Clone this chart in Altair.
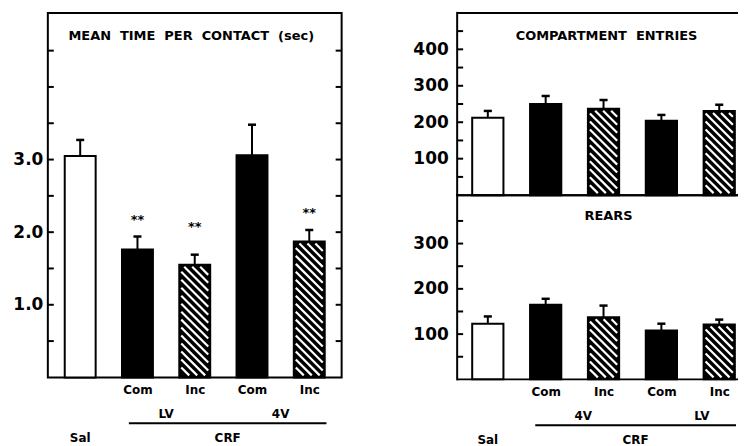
import altair as alt
import pandas as pd

# ---------------- data ----------------
POSITIONS = [0, 1, 2, 3, 4]
KINDS = ["open", "solid", "hatch", "solid", "hatch"]

# left panel: mean time per contact (sec)
LEFT_XLABELS = ["", "Com", "Inc", "Com", "Inc"]
CONTACT_MEAN = [3.05, 1.76, 1.55, 3.06, 1.87]
CONTACT_ERR = [3.27, 1.94, 1.69, 3.48, 2.03]
CONTACT_STARS = [None, 2.17, 2.07, None, 2.27]
LEFT_GROUPS = ["LV", "4V"]
LEFT_GROUP_POS = [1.5, 3.5]
LEFT_YTICKS = [0.5, 1.0, 1.5, 2.0, 2.5, 3.0, 3.5, 4.0, 4.5]
LEFT_YLABELS = [1.0, 2.0, 3.0]

# right panels
RIGHT_XLABELS = ["", "Com", "Inc", "Com", "Inc"]
ENTRIES_MEAN = [212, 250, 237, 204, 231]
ENTRIES_ERR = [231, 272, 261, 220, 248]
REARS_MEAN = [123, 165, 137, 108, 121]
REARS_ERR = [139, 178, 163, 123, 132]
RIGHT_GROUPS = ["4V", "LV"]
RIGHT_GROUP_POS = [1.65, 3.7]
ENTRIES_YTICKS = [50, 100, 150, 200, 250, 300, 350, 400, 450]
ENTRIES_YLABELS = [100, 200, 300, 400]
REARS_YTICKS = [50, 100, 150, 200, 250, 300, 350]
REARS_YLABELS = [100, 200, 300]

CRF_SPAN_LEFT = [0.85, 4.3]
CRF_SPAN_RIGHT = [0.82, 4.29]

FONT = "DejaVu Sans"
HALF = 0.27
CAP = 0.07


def hatch_df(values, kinds, xdom, W, H, ymax, period=8.0, inset=2.0):
    sx = W / (xdom[1] - xdom[0])
    sy = H / ymax
    rows = []
    for p, v, k in zip(POSITIONS, values, kinds):
        if k != "hatch":
            continue
        x0 = (p - HALF - xdom[0]) * sx + inset
        x1 = (p + HALF - xdom[0]) * sx - inset
        yt = (ymax - v) * sy + inset
        yb = H - inset
        c = yb - x0
        cmin = yt - x1
        while c > cmin:
            xa = max(x0, yt - c)
            xb = min(x1, yb - c)
            if xb - xa > 0.5:
                rows.append({
                    "hx": xa / sx + xdom[0],
                    "hx2": xb / sx + xdom[0],
                    "hy": ymax - (xa + c) / sy,
                    "hy2": ymax - (xb + c) / sy,
                })
            c -= period
    return pd.DataFrame(rows)


def panel(values, errs, xdom, W, H, ymax, yticks, ylabels, yfmt, title, title_x,
          title_y, label_pad, xlabels=None, stars=None, right_ticks=False,
          groups=None, group_pos=None, crf_span=None, open_right=False):
    df = pd.DataFrame({
        "pos": POSITIONS, "kind": KINDS, "value": values, "err": errs,
    })
    df["x0"] = df["pos"] - HALF
    df["x1"] = df["pos"] + HALF
    df["cl"] = df["pos"] - CAP
    df["cr"] = df["pos"] + CAP

    xscale = alt.Scale(domain=xdom, nice=False, zero=False)
    yscale = alt.Scale(domain=[0, ymax], nice=False, zero=False)

    if xlabels is not None:
        arr = "[" + ",".join("'%s'" % s for s in xlabels) + "]"
        xaxis = alt.Axis(values=POSITIONS[1:], labelExpr=arr + "[datum.value]",
                         ticks=False, domain=False, grid=False, labelPadding=7,
                         labelFont=FONT, labelFontWeight="bold", labelFontSize=12,
                         labelColor="black", title=None)
    else:
        xaxis = None
    yaxis = alt.Axis(values=ylabels, format=yfmt, ticks=False, domain=False,
                     grid=False, labelPadding=label_pad, labelFont=FONT,
                     labelFontWeight="bold", labelFontSize=17, labelColor="black",
                     title=None)

    bars = alt.Chart(df).mark_bar(stroke="black", strokeWidth=2).encode(
        x=alt.X("x0:Q", scale=xscale, axis=xaxis, title=None),
        x2="x1:Q",
        y=alt.Y("value:Q", scale=yscale, axis=yaxis, title=None),
        y2=alt.datum(0),
        fill=alt.Fill("kind:N", scale=alt.Scale(domain=["open", "solid", "hatch"],
                                                range=["white", "black", "black"]),
                      legend=None),
    )
    layers = [bars]

    hd = hatch_df(values, KINDS, xdom, W, H, ymax)
    layers.append(alt.Chart(hd).mark_rule(color="white", strokeWidth=2.2).encode(
        x=alt.X("hx:Q", title=None), x2="hx2:Q",
        y=alt.Y("hy:Q", title=None), y2="hy2:Q"))

    layers.append(alt.Chart(df).mark_rule(color="black", strokeWidth=2).encode(
        x=alt.X("pos:Q", title=None), y=alt.Y("value:Q", title=None), y2="err:Q"))
    layers.append(alt.Chart(df).mark_rule(color="black", strokeWidth=2.5).encode(
        x=alt.X("cl:Q", title=None), x2="cr:Q", y=alt.Y("err:Q", title=None)))

    tdf = pd.DataFrame({"t": yticks})
    layers.append(alt.Chart(tdf).mark_rule(color="black", strokeWidth=2).encode(
        y=alt.Y("t:Q", title=None), x=alt.value(0), x2=alt.value(6)))
    if right_ticks:
        layers.append(alt.Chart(tdf).mark_rule(color="black", strokeWidth=2).encode(
            y=alt.Y("t:Q", title=None), x=alt.value(W - 6), x2=alt.value(W)))

    if open_right:
        # frame without a right edge (the right edge lies beyond the page)
        one = pd.DataFrame({"k": [0]})
        layers.append(alt.Chart(one).mark_rule(color="black", strokeWidth=2).encode(
            x=alt.value(0), x2=alt.value(W + 2), y=alt.value(0)))
        layers.append(alt.Chart(one).mark_rule(color="black", strokeWidth=2).encode(
            x=alt.value(0), x2=alt.value(W + 2), y=alt.value(H)))
        layers.append(alt.Chart(one).mark_rule(color="black", strokeWidth=2).encode(
            x=alt.value(0), y=alt.value(-1), y2=alt.value(H + 1)))

    layers.append(alt.Chart(pd.DataFrame({"title": [title]})).mark_text(
        font=FONT, fontWeight="bold", fontSize=13, color="black", baseline="middle"
    ).encode(text="title:N", x=alt.value(title_x), y=alt.value(title_y)))

    if stars is not None:
        sdf = pd.DataFrame({"pos": POSITIONS, "s": stars}).dropna()
        sdf["lab"] = "**"
        layers.append(alt.Chart(sdf).mark_text(
            font=FONT, fontWeight="bold", fontSize=13, color="black", baseline="middle"
        ).encode(x=alt.X("pos:Q", title=None), y=alt.Y("s:Q", title=None), text="lab:N"))

    if groups is not None:
        gdf = pd.DataFrame({"g": groups, "gp": group_pos})
        layers.append(alt.Chart(gdf).mark_text(
            font=FONT, fontWeight="bold", fontSize=12, color="black", baseline="middle"
        ).encode(x=alt.X("gp:Q", title=None), y=alt.value(H + 37), text="g:N"))
        cdf = pd.DataFrame({"a": [crf_span[0]], "b": [crf_span[1]]})
        layers.append(alt.Chart(cdf).mark_rule(color="black", strokeWidth=2).encode(
            x=alt.X("a:Q", title=None), x2="b:Q", y=alt.value(H + 46)))
        bdf = pd.DataFrame({"lab": ["Sal", "CRF"],
                            "bp": [0, (crf_span[0] + crf_span[1]) / 2]})
        layers.append(alt.Chart(bdf).mark_text(
            font=FONT, fontWeight="bold", fontSize=12, color="black", baseline="middle"
        ).encode(x=alt.X("bp:Q", title=None), y=alt.value(H + 61), text="lab:N"))

    ch = alt.layer(*layers).properties(width=W, height=H)
    if open_right:
        ch = ch.properties(view=alt.ViewBackground(stroke=None))
    return ch


left = panel(CONTACT_MEAN, CONTACT_ERR, [-0.565, 4.565], 295, 366, 5.02,
             LEFT_YTICKS, LEFT_YLABELS, ".1f",
             "MEAN\u00a0\u00a0TIME\u00a0\u00a0PER\u00a0\u00a0CONTACT\u00a0\u00a0(sec)",
             144, 23, 5, xlabels=LEFT_XLABELS, stars=CONTACT_STARS, right_ticks=True,
             groups=LEFT_GROUPS, group_pos=LEFT_GROUP_POS, crf_span=CRF_SPAN_LEFT)

RX = [-0.53, 4.29]
RW = 280

right_top = panel(ENTRIES_MEAN, ENTRIES_ERR, RX, RW, 183, 500,
                  ENTRIES_YTICKS, ENTRIES_YLABELS, "d",
                  "COMPARTMENT\u00a0\u00a0ENTRIES", 150, 23, 9, open_right=True)

right_bottom = panel(REARS_MEAN, REARS_ERR, RX, RW, 185, 407,
                     REARS_YTICKS, REARS_YLABELS, "d", "REARS", 152, 21, 9,
                     xlabels=RIGHT_XLABELS, groups=RIGHT_GROUPS,
                     group_pos=RIGHT_GROUP_POS, crf_span=CRF_SPAN_RIGHT,
                     open_right=True)

right = alt.vconcat(right_top, right_bottom, spacing=0, bounds="flush")

chart = alt.hconcat(left, right, spacing=116, bounds="flush").properties(
    padding={"left": 3, "top": 2, "right": 0, "bottom": 0},
    background="white",
).configure_view(stroke="black", strokeWidth=2)

chart.save("out.html", embed_options={"renderer": "svg", "actions": False})
